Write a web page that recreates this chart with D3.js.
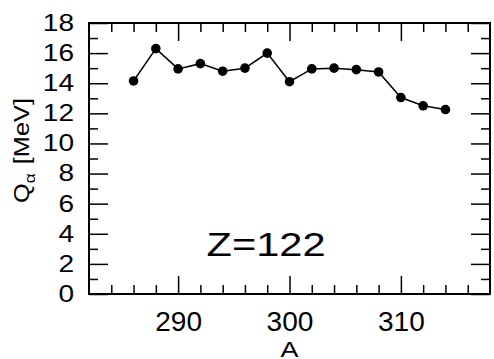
<!DOCTYPE html>
<html>
<head>
<meta charset="utf-8">
<script src="https://cdn.jsdelivr.net/npm/d3@7"></script>
<style>
  body { margin: 0; background: #fff; }
  svg { display: block; font-family: "Liberation Sans", Arial, sans-serif; }
</style>
</head>
<body>
<svg id="chart"></svg>
<script>
// data
const massNumbers = [286, 288, 290, 292, 294, 296, 298, 300, 302, 304, 306, 308, 310, 312, 314];
const qAlpha = [14.15, 16.3, 14.95, 15.3, 14.8, 15.0, 16.0, 14.1, 14.95, 15.0, 14.9, 14.75, 13.05, 12.5, 12.25];

const xMajorTicks = [290, 300, 310];
const xMinorTicks = d3.range(284, 318, 2).filter(d => d % 10 !== 0);
const yMajorTicks = d3.range(0, 19, 2);
const yMinorTicks = d3.range(1, 18, 2);

const width = 494, height = 359;
const margin = {top: 23, right: 4, bottom: 65, left: 89};
const w = width - margin.left - margin.right;
const h = height - margin.top - margin.bottom;

const svg = d3.select('#chart').attr('width', width).attr('height', height);
const chart = svg.append('g').attr('transform', `translate(${margin.left},${margin.top})`);

const x = d3.scaleLinear().domain([282, 318]).range([0, w]);
const y = d3.scaleLinear().domain([0, 18]).range([h, 0]);

/*********** axes, ticks pointing inward ***********/
function styleAxis(g) {
  g.select('.domain').remove();
  g.selectAll('.tick line').attr('stroke', '#000').attr('stroke-width', 1.5);
  g.selectAll('.tick text').attr('fill', '#000');
}

// the reference font is a bit wider than Liberation Sans, stretch the digits
function widen(sel, size, perChar) {
  sel.style('font-size', size + 'px')
    .attr('textLength', function() { return this.textContent.length * perChar; })
    .attr('lengthAdjust', 'spacingAndGlyphs');
}

// bottom
chart.append('g').attr('transform', `translate(0,${h})`)
  .call(d3.axisBottom(x).tickValues(xMajorTicks).tickSize(-18).tickPadding(18))
  .call(styleAxis)
  .selectAll('.tick text').call(widen, 27, 15.6);
chart.append('g').attr('transform', `translate(0,${h})`)
  .call(d3.axisBottom(x).tickValues(xMinorTicks).tickSize(-9).tickFormat(''))
  .call(styleAxis);
// top
chart.append('g')
  .call(d3.axisTop(x).tickValues(xMajorTicks).tickSize(-18).tickFormat(''))
  .call(styleAxis);
chart.append('g')
  .call(d3.axisTop(x).tickValues(xMinorTicks).tickSize(-9).tickFormat(''))
  .call(styleAxis);
// left
chart.append('g')
  .call(d3.axisLeft(y).tickValues(yMajorTicks).tickSize(-19).tickPadding(15))
  .call(styleAxis)
  .selectAll('.tick text').call(widen, 23, 15.6);
chart.append('g')
  .call(d3.axisLeft(y).tickValues(yMinorTicks).tickSize(-9).tickFormat(''))
  .call(styleAxis);
// right
chart.append('g').attr('transform', `translate(${w},0)`)
  .call(d3.axisRight(y).tickValues(yMajorTicks).tickSize(-19).tickFormat(''))
  .call(styleAxis);
chart.append('g').attr('transform', `translate(${w},0)`)
  .call(d3.axisRight(y).tickValues(yMinorTicks).tickSize(-9).tickFormat(''))
  .call(styleAxis);

// frame
chart.append('rect')
  .attr('width', w).attr('height', h)
  .attr('fill', 'none').attr('stroke', '#000').attr('stroke-width', 2);

/*********** line + markers ***********/
const pts = massNumbers.map((a, i) => ({a: a, q: qAlpha[i]}));
const line = d3.line().x(d => x(d.a)).y(d => y(d.q));

chart.append('path')
  .datum(pts)
  .attr('d', line)
  .attr('fill', 'none')
  .attr('stroke', '#000')
  .attr('stroke-width', 1.5);

chart.selectAll('circle.pt')
  .data(pts)
  .enter().append('circle')
  .attr('class', 'pt')
  .attr('cx', d => x(d.a))
  .attr('cy', d => y(d.q))
  .attr('r', 4.8)
  .attr('fill', '#000');

/*********** labels ***********/
chart.append('text')
  .attr('x', x(297.9))
  .attr('y', y(2.5))
  .attr('text-anchor', 'middle')
  .style('font-size', '34px')
  .attr('textLength', 119)
  .attr('lengthAdjust', 'spacingAndGlyphs')
  .text('Z=122');

svg.append('text')
  .attr('x', margin.left + x(300))
  .attr('y', 357)
  .attr('text-anchor', 'middle')
  .style('font-size', '22px')
  .attr('textLength', 18)
  .attr('lengthAdjust', 'spacingAndGlyphs')
  .text('A');

// y title: rotated, then stretched along the text direction to the reference length
const ylg = svg.append('g').attr('transform', 'translate(28.5,203) rotate(-90)');
const yl = ylg.append('text').style('font-size', '22px');
yl.append('tspan').text('Q');
yl.append('tspan').attr('dy', 6).style('font-size', '15px').text('α');
yl.append('tspan').attr('dy', -6).attr('dx', 8).text('[MeV]');
const bb = yl.node().getBBox();
yl.attr('transform', `scale(${105 / bb.width},1)`);
</script>
</body>
</html>
